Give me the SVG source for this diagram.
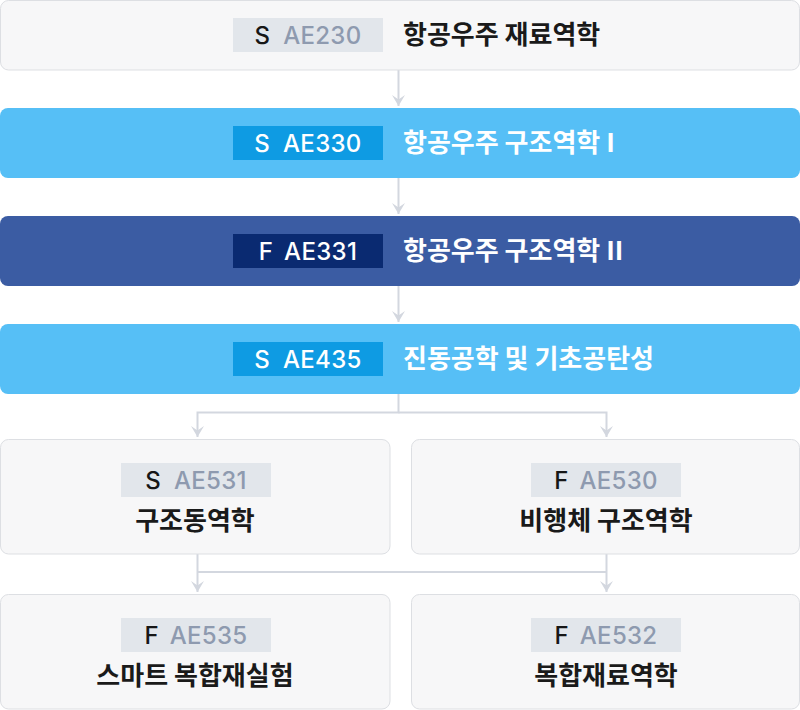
<svg xmlns="http://www.w3.org/2000/svg" width="800" height="710" viewBox="0 0 800 710">
  <defs>
    <marker id="arr" markerUnits="userSpaceOnUse" markerWidth="14" markerHeight="16" viewBox="-12 -8 14 16" refX="0" refY="0" orient="auto">
      <path d="M-11,-6.5 L0,0 L-11,6.5 L-6.5,0 Z" fill="#d3d7df"/>
    </marker>
    <style>
      .box-light { fill: #f7f7f8; stroke: #dddfe3; stroke-width: 1; }
      .box-sky { fill: #56bff6; }
      .box-navy { fill: #3b5ca3; }
      .badge-light { fill: #e2e6eb; }
      .badge-sky { fill: #0e9be3; }
      .badge-navy { fill: #0a2a71; }
      .code { font-family: "Inter", "Noto Sans", sans-serif; font-size: 24px; font-weight: 500; letter-spacing: 0.3px; }
      .sem-dark { fill: #161616; }
      .code-gray { fill: #8e9aaf; }
      .white { fill: #ffffff; }
      .title { font-family: "Noto Sans CJK KR", "Noto Sans", sans-serif; font-size: 26px; font-weight: 700; }
      .title-dark { fill: #1a1a1a; }
      .conn { fill: none; stroke: #d3d7df; stroke-width: 2; }
    </style>
  </defs>

  <g id="connectors">
    <path class="conn" d="M398.5,70 V106" marker-end="url(#arr)"/>
    <path class="conn" d="M398.5,178 V214" marker-end="url(#arr)"/>
    <path class="conn" d="M398.5,286 V322" marker-end="url(#arr)"/>
    <path class="conn" d="M398.5,394 V412.5 H197.5 V437" marker-end="url(#arr)"/>
    <path class="conn" d="M398.5,412.5 H606.5 V437" marker-end="url(#arr)"/>
    <path class="conn" d="M197.5,554 V592" marker-end="url(#arr)"/>
    <path class="conn" d="M606.5,554 V592" marker-end="url(#arr)"/>
    <path class="conn" d="M197.5,572 H606.5"/>
  </g>

  <g id="node-ae230">
    <rect class="box-light" x="0.5" y="0.5" width="799" height="69.5" rx="8"/>
    <rect class="badge-light" x="233" y="18" width="150" height="34"/>
    <text class="code" x="308" y="43.5" text-anchor="middle"><tspan class="sem-dark">S</tspan><tspan class="code-gray" dx="13">AE230</tspan></text>
    <text class="title title-dark" x="403" y="44">항공우주 재료역학</text>
  </g>

  <g id="node-ae330">
    <rect class="box-sky" x="0" y="108" width="800" height="70" rx="8"/>
    <rect class="badge-sky" x="233" y="126" width="150" height="34"/>
    <text class="code white" x="308" y="151.5" text-anchor="middle"><tspan>S</tspan><tspan dx="13">AE330</tspan></text>
    <text class="title white" x="403" y="152">항공우주 구조역학 I</text>
  </g>

  <g id="node-ae331">
    <rect class="box-navy" x="0" y="216" width="800" height="70" rx="8"/>
    <rect class="badge-navy" x="233" y="234" width="150" height="34"/>
    <text class="code white" x="308" y="259.5" text-anchor="middle"><tspan>F</tspan><tspan dx="13">AE331</tspan></text>
    <text class="title white" x="403" y="260">항공우주 구조역학 II</text>
  </g>

  <g id="node-ae435">
    <rect class="box-sky" x="0" y="324" width="800" height="70" rx="8"/>
    <rect class="badge-sky" x="233" y="342" width="150" height="34"/>
    <text class="code white" x="308" y="367.5" text-anchor="middle"><tspan>S</tspan><tspan dx="13">AE435</tspan></text>
    <text class="title white" x="403" y="368">진동공학 및 기초공탄성</text>
  </g>

  <g id="node-ae531">
    <rect class="box-light" x="0.5" y="439.5" width="389.5" height="114.5" rx="8"/>
    <rect class="badge-light" x="121" y="463" width="150" height="34"/>
    <text class="code" x="196" y="488.5" text-anchor="middle"><tspan class="sem-dark">S</tspan><tspan class="code-gray" dx="13">AE531</tspan></text>
    <text class="title title-dark" x="195" y="530" text-anchor="middle">구조동역학</text>
  </g>

  <g id="node-ae530">
    <rect class="box-light" x="411.5" y="439.5" width="388" height="114.5" rx="8"/>
    <rect class="badge-light" x="531" y="463" width="150" height="34"/>
    <text class="code" x="606" y="488.5" text-anchor="middle"><tspan class="sem-dark">F</tspan><tspan class="code-gray" dx="13">AE530</tspan></text>
    <text class="title title-dark" x="606" y="530" text-anchor="middle">비행체 구조역학</text>
  </g>

  <g id="node-ae535">
    <rect class="box-light" x="0.5" y="594.5" width="389.5" height="114.5" rx="8"/>
    <rect class="badge-light" x="121" y="618" width="150" height="34"/>
    <text class="code" x="196" y="643.5" text-anchor="middle"><tspan class="sem-dark">F</tspan><tspan class="code-gray" dx="13">AE535</tspan></text>
    <text class="title title-dark" x="195" y="685" text-anchor="middle">스마트 복합재실험</text>
  </g>

  <g id="node-ae532">
    <rect class="box-light" x="411.5" y="594.5" width="388" height="114.5" rx="8"/>
    <rect class="badge-light" x="531" y="618" width="150" height="34"/>
    <text class="code" x="606" y="643.5" text-anchor="middle"><tspan class="sem-dark">F</tspan><tspan class="code-gray" dx="13">AE532</tspan></text>
    <text class="title title-dark" x="606" y="685" text-anchor="middle">복합재료역학</text>
  </g>
</svg>
